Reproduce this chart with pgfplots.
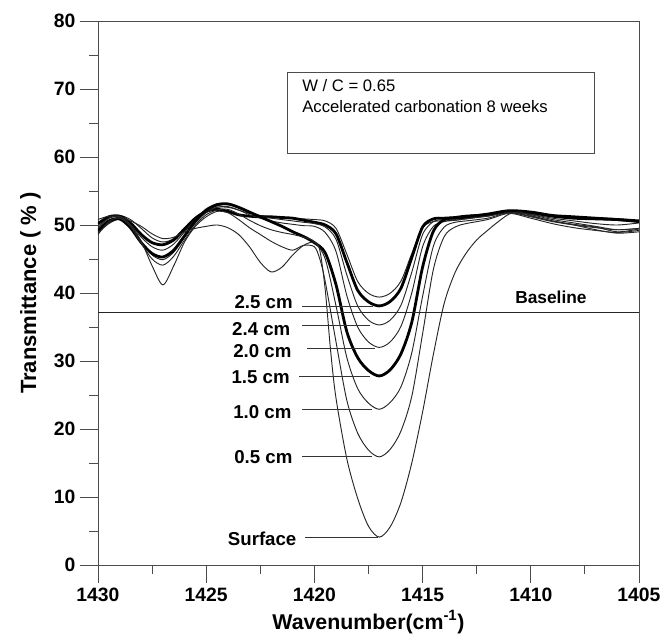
\documentclass[border=0pt]{standalone}
\usepackage{fontspec}
\setmainfont{Liberation Sans}
\usepackage{pgfplots}
\pgfplotsset{compat=1.18}

\begin{document}
\begin{tikzpicture}
\pgfplotsset{
  thin spec/.style={black!85, line width=0.7pt, smooth, tension=0.5},
  thick spec/.style={black, line width=2.1pt, smooth, tension=0.5},
}
\begin{axis}[
    scale only axis,
    width=405.75pt, height=408pt,
    x dir=reverse,
    xmin=1405, xmax=1430, ymin=0, ymax=80,
    xtick={1405,1410,...,1430}, minor xtick={1407.5,1412.5,...,1427.5},
    ytick={0,10,...,80}, minor ytick={5,15,...,75},
    xtick pos=bottom, ytick pos=left,
    tick align=outside,
    major tick length=13.5pt, minor tick length=6.75pt,
    axis line style={black!70, line width=0.7pt},
    tick style={black!70, line width=0.7pt},
    /pgf/number format/assume math mode=true,
    /pgf/number format/1000 sep={},
    tick label style={font=\bfseries\fontsize{14.5}{17}\selectfont},
    xlabel style={font=\bfseries\fontsize{16}{19}\selectfont},
    ylabel style={font=\bfseries\fontsize{16.5}{19}\selectfont},
    ylabel shift=3pt,
    xlabel={Wavenumber(cm\textsuperscript{-1})},
    ylabel={Transmittance ( \% )},
]
% unlabeled (thin, shallowest)
\addplot[thin spec] coordinates {(1430,49.8)(1429.5,51.0)(1429,51.4)(1428.5,50.8)(1428,49.5)(1427.5,48.1)(1427,47.5)(1426.5,48.0)(1426,49.6)(1425.5,51.0)(1425,52.0)(1424.5,52.6)(1424,52.6)(1423.5,52.2)(1423,51.7)(1422.5,51.4)(1422,51.2)(1421.5,51.1)(1421,51.0)(1420.5,50.9)(1420,50.8)(1419.5,50.6)(1419,49.5)(1418.5,45.7)(1418,41.7)(1417.5,39.95)(1417,39.4)(1416.5,39.96)(1416,41.75)(1415.5,45.8)(1415,49.6)(1414.5,50.5)(1414,50.6)(1413.5,50.7)(1413,50.9)(1412,51.3)(1411,51.8)(1410,51.5)(1409,50.8)(1408,50.3)(1407,49.8)(1406,49.3)(1405,49.5)};
% 2.5 cm
\addplot[thick spec] coordinates {(1430,50.2)(1429.5,51.2)(1429,51.3)(1428.5,50.3)(1428,48.6)(1427.5,47.4)(1427,47.1)(1426.5,47.8)(1426,49.4)(1425.5,51.0)(1425,52.0)(1424.5,52.3)(1424,52.0)(1423.5,51.5)(1423,51.3)(1422.5,51.2)(1422,51.2)(1421.5,51.1)(1421,51.0)(1420.5,50.7)(1420,50.4)(1419.5,50.0)(1419,48.7)(1418.5,44.5)(1418,40.4)(1417.5,38.7)(1417,38.1)(1416.5,38.75)(1416,40.7)(1415.5,45.2)(1415,49.7)(1414.5,50.9)(1414,51.0)(1413.5,51.1)(1413,51.3)(1412,51.5)(1411,52.0)(1410,51.8)(1409,51.3)(1408,51.0)(1407,50.9)(1406,50.8)(1405,50.6)};
% 2.4 cm
\addplot[thin spec] coordinates {(1430,49.0)(1429.5,50.3)(1429,50.9)(1428.5,50.0)(1428,48.2)(1427.5,46.8)(1427,46.3)(1426.5,47.2)(1426,49.0)(1425.5,50.8)(1425,52.0)(1424.5,52.8)(1424,53.0)(1423.5,52.5)(1423,51.8)(1422.5,51.3)(1422,51.0)(1421.5,50.8)(1421,50.6)(1420.5,50.4)(1420,50.2)(1419.5,49.7)(1419,47.9)(1418.5,42.65)(1418,38.1)(1417.5,36.0)(1417,35.3)(1416.5,36.0)(1416,38.2)(1415.5,43.05)(1415,48.6)(1414.5,50.5)(1414,50.8)(1413.5,50.9)(1413,51.0)(1412,51.3)(1411,51.9)(1410,51.3)(1409,50.6)(1408,50.0)(1407,49.3)(1406,48.8)(1405,49.0)};
% 2.0 cm
\addplot[thin spec] coordinates {(1430,48.8)(1429.5,50.2)(1429,50.8)(1428.5,49.6)(1428,47.5)(1427.5,45.6)(1427,44.9)(1426.5,46.0)(1426,48.2)(1425.5,50.3)(1425,51.8)(1424.5,52.6)(1424,52.7)(1423.5,52.2)(1423,51.5)(1422.5,51.0)(1422,50.6)(1421.5,50.3)(1421,50.1)(1420.5,49.9)(1420,49.8)(1419.5,48.9)(1419,46.1)(1418.5,39.6)(1418,35.0)(1417.5,32.8)(1417,32.0)(1416.5,32.8)(1416,35.1)(1415.5,40.0)(1415,46.8)(1414.5,49.8)(1414,50.5)(1413.5,50.7)(1413,50.9)(1412,51.4)(1411,52.0)(1410,51.6)(1409,51.0)(1408,50.6)(1407,50.2)(1406,50.0)(1405,50.3)};
% 1.5 cm
\addplot[thick spec] coordinates {(1430,49.2)(1429.5,50.6)(1429,50.9)(1428.5,49.6)(1428,47.4)(1427.5,45.8)(1427,45.3)(1426.5,46.3)(1426,48.4)(1425.5,50.6)(1425,52.2)(1424.5,53.0)(1424,53.1)(1423.5,52.6)(1423,51.9)(1422.5,51.2)(1422,50.5)(1421.5,49.8)(1421,49.0)(1420.5,48.3)(1420,47.4)(1419.5,45.9)(1419,41.2)(1418.5,34.3)(1418,30.5)(1417.5,28.6)(1417,27.8)(1416.5,28.7)(1416,31.05)(1415.5,35.7)(1415,43.8)(1414.5,49.1)(1414,50.8)(1413.5,51.0)(1413,51.2)(1412,51.6)(1411,52.1)(1410,51.9)(1409,51.4)(1408,51.2)(1407,51.0)(1406,50.8)(1405,50.5)};
% 1.0 cm
\addplot[thin spec] coordinates {(1430,48.6)(1429.5,50.5)(1429,51.0)(1428.5,49.8)(1428,47.3)(1427.5,45.0)(1427,44.1)(1426.5,45.4)(1426,47.8)(1425.5,50.0)(1425,51.5)(1424.5,52.2)(1424,52.3)(1423.5,51.6)(1423,50.7)(1422.5,49.9)(1422,49.3)(1421.5,48.9)(1421,48.6)(1420.5,48.2)(1420,47.5)(1419.5,45.0)(1419,38.1)(1418.5,30.5)(1418,25.95)(1417.5,23.8)(1417,22.9)(1416.5,23.9)(1416,26.2)(1415.5,31.2)(1415,39.5)(1414.5,46.9)(1414,49.7)(1413.5,50.4)(1413,50.6)(1412,51.0)(1411,51.8)(1410,51.2)(1409,50.5)(1408,50.0)(1407,49.6)(1406,49.3)(1405,49.5)};
% 0.5 cm
\addplot[thin spec] coordinates {(1430,49.5)(1429.5,51.0)(1429,51.3)(1428.5,50.0)(1428,47.6)(1427.5,44.0)(1427,41.2)(1426.5,44.0)(1426,47.5)(1425.5,49.8)(1425,51.2)(1424.5,52.0)(1424,51.8)(1423.5,50.8)(1423,49.6)(1422.5,48.6)(1422,47.6)(1421.5,46.8)(1421,46.3)(1420.5,47.0)(1420,46.8)(1419.75,45.0)(1419.5,41.7)(1419,32.8)(1418.5,24.2)(1418,19.4)(1417.5,16.9)(1417,15.9)(1416.5,17.0)(1416,19.7)(1415.5,24.8)(1415,34.0)(1414.5,43.5)(1414,48.3)(1413.5,49.7)(1413,50.2)(1412,50.8)(1411,51.7)(1410,51.0)(1409,50.2)(1408,49.6)(1407,49.2)(1406,48.9)(1405,49.2)};
% Surface
\addplot[thin spec] coordinates {(1430,50.8)(1429.5,51.3)(1429,51.2)(1428.5,50.6)(1428,49.8)(1427.5,48.7)(1427,48.0)(1426.5,48.2)(1426,49.0)(1425.5,49.5)(1425,49.8)(1424.5,50.0)(1424,49.6)(1423.5,48.6)(1423,46.8)(1422.5,44.5)(1422,43.1)(1421.5,43.8)(1421,45.6)(1420.5,47.0)(1420,47.5)(1419.75,46.3)(1419.5,40.5)(1419.25,31.5)(1419,24.5)(1418.5,15.6)(1418,9.8)(1417.5,5.7)(1417,4.1)(1416.5,5.6)(1416,9.2)(1415.5,15.0)(1415,22.5)(1414.5,31.0)(1414,38.5)(1413.5,43.0)(1413,45.8)(1412.5,47.8)(1412,49.2)(1411.5,50.5)(1411,51.6)(1410.5,51.9)(1410,51.4)(1409,50.6)(1408,50.1)(1407,49.7)(1406,49.0)(1405,49.4)};
% baseline
\addplot[black!85, line width=0.7pt] coordinates {(1430,37.2) (1405,37.2)};
\node[font=\bfseries\fontsize{13}{15}\selectfont] at (axis cs:1409.07,39.3) {Baseline};

% leader lines and labels
\draw[black!80, line width=0.6pt] (axis cs:1420.57,38.1) -- (axis cs:1417.29,38.1);
\draw[black!80, line width=0.6pt] (axis cs:1420.57,35.3) -- (axis cs:1417.43,35.3);
\draw[black!80, line width=0.6pt] (axis cs:1420.34,31.9) -- (axis cs:1417.20,31.9);
\draw[black!80, line width=0.6pt] (axis cs:1420.71,27.8) -- (axis cs:1417.43,27.8);
\draw[black!80, line width=0.6pt] (axis cs:1420.57,22.9) -- (axis cs:1417.34,22.9);
\draw[black!80, line width=0.6pt] (axis cs:1420.57,15.9) -- (axis cs:1417.34,15.9);
\draw[black!80, line width=0.6pt] (axis cs:1420.43,4.1) -- (axis cs:1417.06,4.1);
\begin{scope}[every node/.style={anchor=east, inner sep=0pt, font=\bfseries\fontsize{14}{16}\selectfont}]
\node at (axis cs:1420.99,38.7) {2.5 cm};
\node at (axis cs:1421.10,34.75) {2.4 cm};
\node at (axis cs:1421.05,31.5) {2.0 cm};
\node at (axis cs:1421.13,27.6) {1.5 cm};
\node at (axis cs:1421.05,22.5) {1.0 cm};
\node at (axis cs:1421.00,15.9) {0.5 cm};
\node at (axis cs:1420.82,3.9) {Surface};
\end{scope}

% info box
\draw[black!70, line width=0.6pt] (axis cs:1421.27,60.6) rectangle (axis cs:1407.08,72.5);
\node[anchor=west, inner sep=0pt, font=\fontsize{12.5}{15}\selectfont] at (axis cs:1420.57,70.5) {W / C = 0.65};
\node[anchor=west, inner sep=0pt, font=\fontsize{12.5}{15}\selectfont] at (axis cs:1420.57,67.4) {Accelerated carbonation 8 weeks};

\coordinate (sw) at (rel axis cs:0,0);
\coordinate (ne) at (rel axis cs:1,1);
\end{axis}
\path (sw) ++(-73.5pt,-57pt) coordinate (bl);
\path (ne) ++(18.75pt,15.75pt) coordinate (tr);
\pgfresetboundingbox
\useasboundingbox (bl) rectangle (tr);
\end{tikzpicture}
\end{document}
